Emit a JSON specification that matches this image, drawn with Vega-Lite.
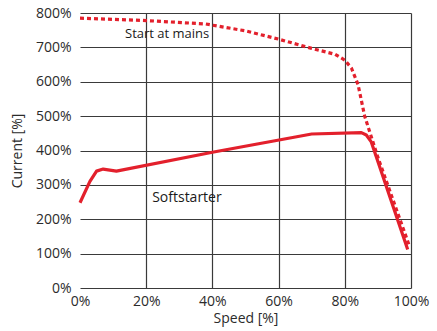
{
  "$schema": "https://vega.github.io/schema/vega-lite/v6.json",
  "autosize": "none",
  "width": 331,
  "height": 275,
  "padding": {"left": 80, "top": 13, "right": 26, "bottom": 43},
  "background": "white",
  "config": {
    "view": {"stroke": null},
    "font": "Open Sans",
    "axis": {
      "labelFont": "Open Sans",
      "titleFont": "Open Sans",
      "labelFontSize": 14,
      "titleFontSize": 14,
      "labelColor": "#2b2b2b",
      "titleColor": "#2b2b2b",
      "titleFontWeight": "normal",
      "labelOverlap": false,
      "labelFlush": false,
      "labelBound": false,
      "ticks": false,
      "domain": false,
      "gridColor": "#3a3a3a",
      "gridWidth": 1.2,
      "gridOpacity": 1
    }
  },
  "datasets": {
    "soft": [
      {"speed": 0, "current": 248},
      {"speed": 3, "current": 310},
      {"speed": 5, "current": 340},
      {"speed": 7, "current": 346},
      {"speed": 11, "current": 340},
      {"speed": 40, "current": 395},
      {"speed": 70, "current": 448},
      {"speed": 85, "current": 452},
      {"speed": 86.5, "current": 445},
      {"speed": 88, "current": 425},
      {"speed": 99, "current": 112}
    ],
    "mains": [
      {"speed": 0, "current": 785},
      {"speed": 20, "current": 778},
      {"speed": 38, "current": 768},
      {"speed": 50, "current": 748},
      {"speed": 60, "current": 724},
      {"speed": 70, "current": 697},
      {"speed": 77, "current": 680},
      {"speed": 80, "current": 663},
      {"speed": 82, "current": 640},
      {"speed": 84, "current": 592},
      {"speed": 86, "current": 500},
      {"speed": 88, "current": 440},
      {"speed": 90, "current": 380},
      {"speed": 99.6, "current": 120}
    ],
    "label1": [
      {"speed": 13.6, "current": 738, "text": "Start at mains"}
    ],
    "label2": [
      {"speed": 21.8, "current": 262, "text": "Softstarter"}
    ]
  },
  "encoding": {
    "x": {
      "field": "speed", "type": "quantitative",
      "scale": {"domain": [0, 100], "nice": false},
      "axis": {
        "values": [0, 20, 40, 60, 80, 100],
        "tickCount": 12,
        "labelExpr": "datum.value + '%'",
        "title": "Speed [%]",
        "titlePadding": 3,
        "labelPadding": 6,
        "grid": true,
        "gridOpacity": {"condition": {"test": "datum.value == 0", "value": 0}, "value": 1}
      }
    },
    "y": {
      "field": "current", "type": "quantitative",
      "scale": {"domain": [0, 800], "nice": false},
      "axis": {
        "values": [0, 100, 200, 300, 400, 500, 600, 700, 800],
        "tickCount": 20,
        "labelExpr": "datum.value + '%'",
        "title": "Current [%]",
        "titlePadding": 11,
        "labelPadding": 9,
        "grid": true
      }
    }
  },
  "layer": [
    {
      "data": {"name": "soft"},
      "mark": {"type": "line", "color": "#e3202c", "strokeWidth": 3.2, "strokeJoin": "round"}
    },
    {
      "data": {"name": "mains"},
      "mark": {"type": "line", "color": "#e3202c", "strokeWidth": 3.2, "strokeDash": [4, 3]}
    },
    {
      "data": {"name": "label1"},
      "mark": {"type": "text", "align": "left", "baseline": "middle", "fontSize": 13, "font": "Open Sans", "color": "#1a1a1a"},
      "encoding": {"text": {"field": "text"}}
    },
    {
      "data": {"name": "label2"},
      "mark": {"type": "text", "align": "left", "baseline": "middle", "fontSize": 14, "font": "Open Sans", "color": "#1a1a1a"},
      "encoding": {"text": {"field": "text"}}
    }
  ]
}
